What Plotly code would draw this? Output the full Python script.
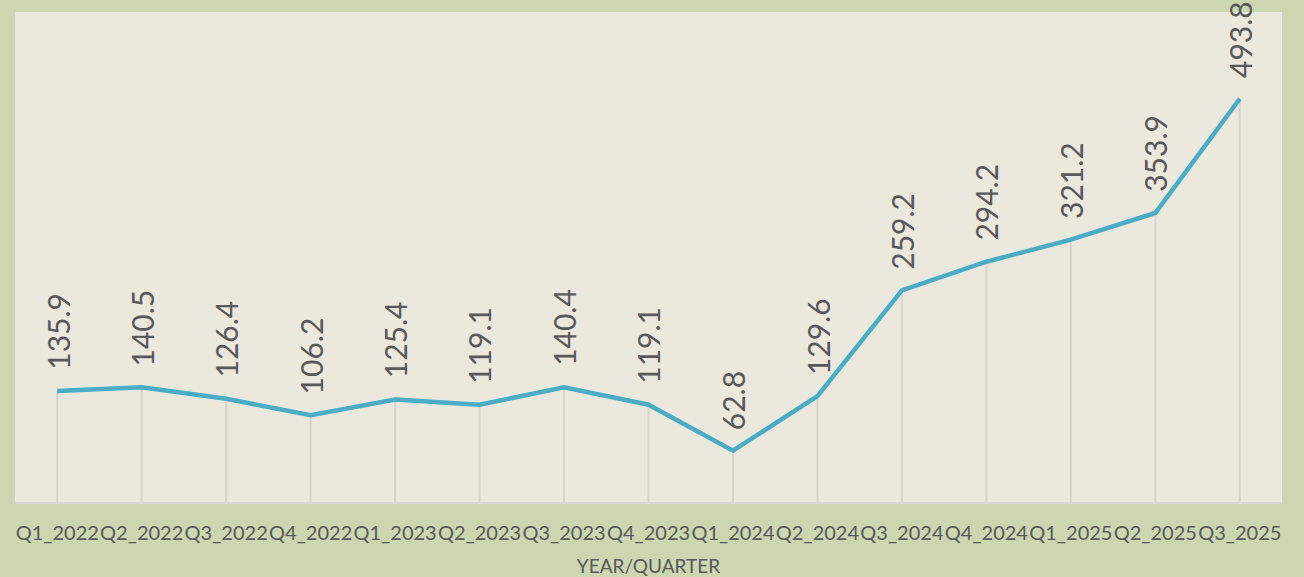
import plotly.graph_objects as go

quarters = ["Q1_2022", "Q2_2022", "Q3_2022", "Q4_2022", "Q1_2023", "Q2_2023", "Q3_2023",
            "Q4_2023", "Q1_2024", "Q2_2024", "Q3_2024", "Q4_2024", "Q1_2025", "Q2_2025", "Q3_2025"]
values = [135.9, 140.5, 126.4, 106.2, 125.4, 119.1, 140.4, 119.1, 62.8, 129.6, 259.2, 294.2, 321.2, 353.9, 493.8]
x_title = "YEAR/QUARTER"

FONT = "Lato"
TXT = "#595959"

drop_x, drop_y = [], []
for q, v in zip(quarters, values):
    drop_x += [q, q, None]
    drop_y += [0, v, None]

fig = go.Figure()
fig.add_trace(go.Scatter(x=drop_x, y=drop_y, mode="lines",
                         line=dict(color="#d6d4cc", width=2), hoverinfo="skip", showlegend=False))
fig.add_trace(go.Scatter(x=quarters, y=values, mode="lines",
                         line=dict(color="#4bacc6", width=4.5), showlegend=False))

for q, v in zip(quarters, values):
    fig.add_annotation(x=q, y=v, text=f"{v:.1f}", textangle=-90, showarrow=False,
                       xanchor="center", yanchor="bottom", yshift=19,
                       font=dict(family=FONT, size=30, color=TXT))

fig.update_layout(
    width=1304, height=577,
    paper_bgcolor="#ccd6b1", plot_bgcolor="#ebe9de",
    margin=dict(l=15, r=22, t=12, b=75),
    font=dict(family=FONT, color=TXT),
    xaxis=dict(type="category", range=[-0.5, 14.5], tickangle=0, showgrid=False,
               showline=True, linecolor="#d9d9d9", linewidth=2, ticks="",
               ticklabelstandoff=12, automargin=False,
               tickfont=dict(family=FONT, size=20, color=TXT),
               title=dict(text=x_title, font=dict(family=FONT, size=19, color=TXT), standoff=17)),
    yaxis=dict(range=[0, 600], showgrid=False, showticklabels=False, zeroline=False, ticks="",
               automargin=False),
)
fig.write_html("out.html", config={"displayModeBar": False},
               post_script="document.body.style.margin='0px';")
